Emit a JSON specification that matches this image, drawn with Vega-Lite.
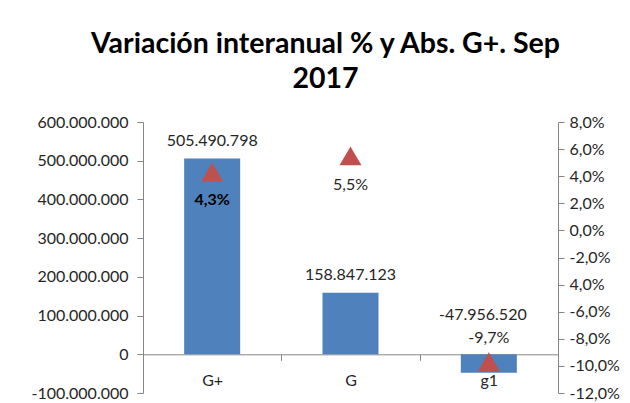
{
  "$schema": "https://vega.github.io/schema/vega-lite/v6.json",
  "width": 415,
  "height": 271,
  "autosize": {"type": "none"},
  "padding": {"left": 143, "top": 122, "right": 72, "bottom": 10},
  "background": "white",
  "config": {
    "locale": {"number": {"decimal": ",", "thousands": ".", "grouping": [3], "currency": ["", " €"], "minus": "-"}},
    "view": {"stroke": null},
    "font": "Lato"
  },
  "title": {
    "text": ["Variación interanual % y Abs. G+. Sep", "2017"],
    "font": "Lato",
    "fontSize": 28.5,
    "fontWeight": "bold",
    "color": "#000000",
    "lineHeight": 35,
    "anchor": "middle",
    "dx": -25,
    "offset": 21
  },
  "data": {
    "values": [
      {"cat": "G+", "abs": 505490798, "pct": 0.043},
      {"cat": "G", "abs": 158847123, "pct": 0.055},
      {"cat": "g1", "abs": -47956520, "pct": -0.097}
    ]
  },
  "encoding": {
    "x": {
      "field": "cat",
      "type": "nominal",
      "sort": null,
      "scale": {"paddingInner": 0, "paddingOuter": 0},
      "axis": {
        "title": null,
        "labelAngle": 0,
        "tickBand": "extent",
        "offset": -38.7,
        "domainColor": "#868686",
        "tickColor": "#868686",
        "tickSize": 6,
        "labelPadding": 12,
        "labelFontSize": 16,
        "labelColor": "#262626",
        "labelFont": "Lato"
      }
    }
  },
  "layer": [
    {
      "encoding": {
        "y": {
          "field": "abs",
          "type": "quantitative",
          "scale": {"domain": [-100000000, 600000000], "nice": false},
          "axis": {
            "title": null,
            "orient": "left",
            "values": [-100000000, 0, 100000000, 200000000, 300000000, 400000000, 500000000, 600000000],
            "format": ",.0f",
            "grid": false,
            "domainColor": "#868686",
            "tickColor": "#868686",
            "tickSize": 6,
            "labelPadding": 9,
            "labelFontSize": 16,
            "labelColor": "#262626",
            "labelFont": "Lato"
          }
        }
      },
      "layer": [
        {"mark": {"type": "bar", "color": "#4F81BD", "width": {"band": 0.405}}},
        {
          "transform": [{"filter": "datum.cat != 'g1'"}],
          "mark": {"type": "text", "baseline": "middle", "dy": -18, "fontSize": 16, "color": "#262626", "font": "Lato"},
          "encoding": {"text": {"field": "abs", "type": "quantitative", "format": ",.0f"}}
        },
        {
          "transform": [{"filter": "datum.cat == 'g1'"}],
          "mark": {"type": "text", "baseline": "middle", "dy": -58, "dx": -6, "fontSize": 16, "color": "#262626", "font": "Lato"},
          "encoding": {"text": {"field": "abs", "type": "quantitative", "format": ",.0f"}}
        }
      ]
    },
    {
      "encoding": {
        "y": {
          "field": "pct",
          "type": "quantitative",
          "scale": {"domain": [-0.12, 0.08], "nice": false},
          "axis": {
            "title": null,
            "orient": "right",
            "values": [-0.12, -0.1, -0.08, -0.06, -0.04, -0.02, 0, 0.02, 0.04, 0.06, 0.08],
            "format": ".1%",
            "labelExpr": "abs(datum.value + 0.04) < 0.001 ? '4,0%' : datum.label",
            "grid": false,
            "domainColor": "#868686",
            "tickColor": "#868686",
            "tickSize": 6,
            "labelPadding": 5,
            "labelFontSize": 16,
            "labelColor": "#262626",
            "labelFont": "Lato"
          }
        }
      },
      "layer": [
        {"mark": {"type": "point", "shape": "triangle-up", "filled": true, "opacity": 1, "size": 480, "color": "#C0504D"}},
        {
          "transform": [{"filter": "datum.cat == 'G+'"}],
          "mark": {"type": "text", "baseline": "middle", "dy": 28, "fontSize": 16, "fontWeight": "bold", "color": "#000000", "font": "Lato"},
          "encoding": {"text": {"field": "pct", "type": "quantitative", "format": ".1%"}}
        },
        {
          "transform": [{"filter": "datum.cat == 'G'"}],
          "mark": {"type": "text", "baseline": "middle", "dy": 29, "fontSize": 16, "color": "#262626", "font": "Lato"},
          "encoding": {"text": {"field": "pct", "type": "quantitative", "format": ".1%"}}
        },
        {
          "transform": [{"filter": "datum.cat == 'g1'"}],
          "mark": {"type": "text", "baseline": "middle", "dy": -24, "fontSize": 16, "color": "#262626", "font": "Lato"},
          "encoding": {"text": {"field": "pct", "type": "quantitative", "format": ".1%"}}
        }
      ]
    }
  ],
  "resolve": {"scale": {"y": "independent"}}
}
